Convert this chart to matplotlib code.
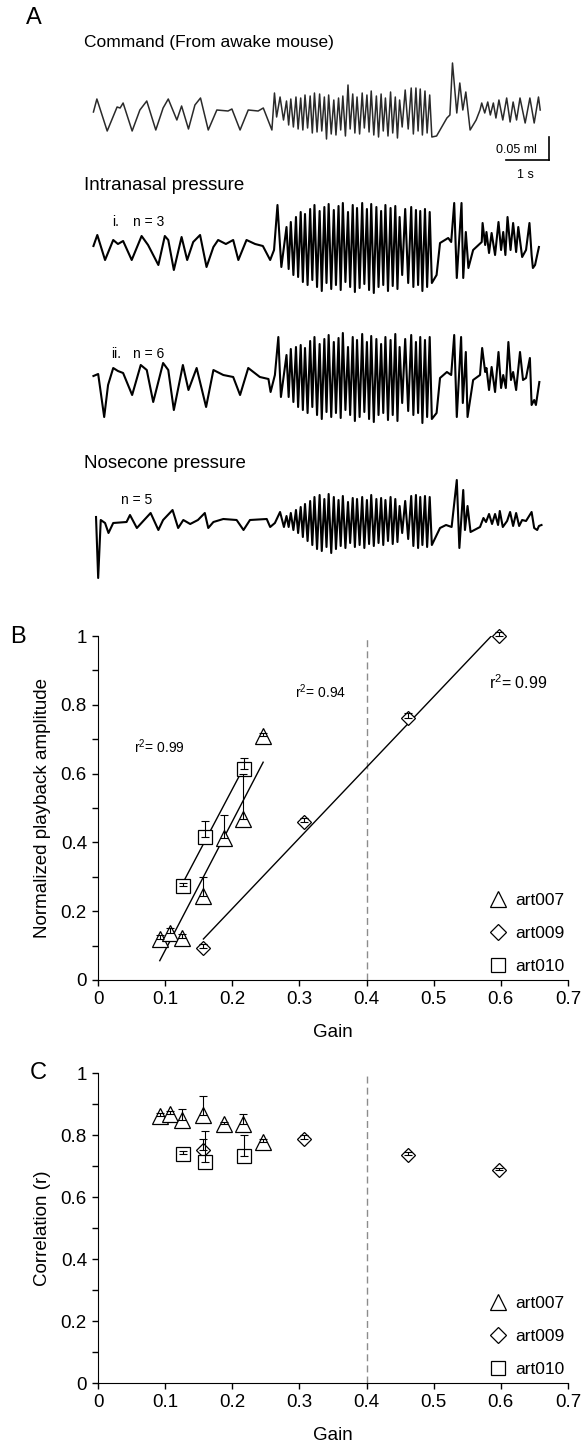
import numpy as np
import matplotlib.pyplot as plt
from matplotlib.lines import Line2D

plt.rcParams['font.family'] = ['Liberation Sans', 'DejaVu Sans']
plt.rcParams['mathtext.default'] = 'regular'

# ---------------- Panel A: pressure traces ----------------
# turning points: (time in s, amplitude in a.u.; 23 a.u. = 0.05 ml)
cmd_pre = [(0.08, 3), (0.16, 16), (0.40, -16), (0.63, 8), (0.70, 7), (0.77, 12), (0.98, -16),
           (1.16, 5), (1.32, 14), (1.53, -15), (1.70, 7), (1.82, 16), (2.02, -5), (2.13, 9),
           (2.29, -14), (2.44, 10), (2.57, 17), (2.75, -15), (2.95, 5), (3.21, 4), (3.30, 6),
           (3.49, -15), (3.68, 5), (3.91, 4), (4.03, 7), (4.23, -15), (4.29, 22), (4.34, -2),
           (4.42, 18), (4.50, -5)]
cmd_post = [(8.06, -21), (8.30, -3), (8.37, 0), (8.43, 52), (8.53, 2), (8.60, 32), (8.67, 5),
            (8.74, 23), (8.84, -15), (8.98, -5), (9.07, 5), (9.11, 12), (9.18, 2), (9.25, 13),
            (9.31, 0), (9.38, 12), (9.44, -3), (9.51, 15), (9.60, -5), (9.69, 17), (9.77, -7),
            (9.84, 13), (9.92, -5), (10.0, 17), (10.12, -8), (10.23, 17), (10.33, -8),
            (10.43, 18), (10.47, 5)]

in1_pre = [(0.08, 1), (0.17, 12), (0.35, -13), (0.54, 7), (0.65, 3), (0.77, 6), (0.97, -13),
           (1.20, 11), (1.35, 2), (1.59, -18), (1.74, 11), (1.82, 7), (1.95, -23), (2.13, 10),
           (2.26, -13), (2.40, 5), (2.56, 12), (2.71, -20), (2.87, 0), (2.98, 7), (3.16, 3),
           (3.33, 7), (3.45, -13), (3.64, 7), (3.84, 3), (4.02, 1), (4.19, -13), (4.28, -3),
           (4.36, 42), (4.45, -20)]
in1_post = [(8.06, -28), (8.14, 4), (8.33, 9), (8.40, 5), (8.47, 44), (8.53, -31), (8.64, 44),
            (8.68, -31), (8.74, 15), (8.80, -21), (8.91, -3), (9.11, 5), (9.13, 24), (9.19, 2),
            (9.22, 15), (9.28, -6), (9.34, 14), (9.42, -8), (9.50, 25), (9.56, -3), (9.61, 15),
            (9.66, -8), (9.71, 30), (9.78, -3), (9.84, 24), (9.91, -5), (9.96, 20), (10.05, -10),
            (10.14, -3), (10.22, 24), (10.27, -8), (10.30, -21), (10.35, -18), (10.40, -8),
            (10.44, 0)]

in2_pre = [(0.08, 1), (0.19, 3), (0.33, -40), (0.42, -8), (0.54, 9), (0.65, 6), (0.77, 4),
           (0.98, -18), (1.18, 12), (1.32, 7), (1.47, -25), (1.70, 14), (1.82, 7), (1.95, -33),
           (2.16, 12), (2.29, -13), (2.48, 9), (2.70, -30), (2.87, 7), (3.10, 2), (3.33, 0),
           (3.49, -18), (3.68, 9), (3.95, 0), (4.15, -2), (4.20, -15), (4.30, 2), (4.38, 40),
           (4.44, -20)]
in2_post = [(8.06, -36), (8.14, -1), (8.30, 5), (8.40, 2), (8.47, 42), (8.53, -40), (8.63, 40),
            (8.67, -26), (8.74, 25), (8.78, -40), (8.91, -3), (9.07, 2), (9.12, 29), (9.19, 5),
            (9.22, 9), (9.28, -13), (9.34, 10), (9.42, -15), (9.50, 25), (9.56, -11), (9.61, 2),
            (9.67, -11), (9.73, 35), (9.79, -3), (9.84, 5), (9.91, -13), (10.0, 25), (10.07, -3),
            (10.14, -1), (10.23, 19), (10.27, -28), (10.33, -23), (10.37, -28), (10.45, -5)]

nose_pre = [(0.14, 4), (0.19, -57), (0.25, 1), (0.35, -2), (0.43, -12), (0.54, -2), (0.85, -1),
            (0.93, 6), (1.09, -7), (1.26, 1), (1.41, 8), (1.59, -9), (1.70, 1), (1.92, 11),
            (2.05, -7), (2.17, 1), (2.33, -3), (2.51, 1), (2.67, 8), (2.75, -7), (2.87, -1),
            (3.10, 2), (3.41, 1), (3.57, -9), (3.72, 1), (4.11, 2), (4.19, -6), (4.30, -2),
            (4.42, 9), (4.51, -6)]
nose_post = [(8.14, -7), (8.28, -4), (8.41, -6), (8.53, 41), (8.59, -27), (8.68, 31), (8.72, -9),
             (8.78, 15), (8.85, -11), (9.07, -6), (9.15, 3), (9.21, -1), (9.28, 7), (9.35, -3),
             (9.42, 7), (9.49, -4), (9.53, 10), (9.60, -6), (9.70, 0), (9.77, 9), (9.84, -5),
             (9.91, 8), (9.98, -5), (10.05, 1), (10.14, 0), (10.27, 9), (10.33, -7), (10.40, -9),
             (10.44, -5), (10.50, -4)]

# fast sniffing bout: times of each peak / trough (s)
fast_peak_t = [4.57, 4.67, 4.79, 4.90, 5.00, 5.12, 5.22, 5.34, 5.45, 5.55, 5.67, 5.78, 5.88,
               6.00, 6.11, 6.21, 6.33, 6.44, 6.54, 6.66, 6.77, 6.87, 6.99, 7.10, 7.20, 7.33,
               7.47, 7.58, 7.68, 7.79, 7.90]
fast_trough_t = [4.62, 4.73, 4.84, 4.95, 5.06, 5.17, 5.28, 5.39, 5.50, 5.61, 5.72, 5.83, 5.94,
                 6.05, 6.16, 6.27, 6.38, 6.49, 6.60, 6.71, 6.82, 6.93, 7.04, 7.15, 7.26, 7.40,
                 7.52, 7.63, 7.73, 7.84, 7.95]

cmd_peaks = [14, 16, 18, 17, 20, 19, 22, 21, 18, 20, 15, 17, 19, 30, 21, 18, 22, 20, 24, 19,
             21, 17, 23, 18, 15, 25, 27, 27, 26, 24, 20]
cmd_troughs = [-10, -12, -14, -15, -13, -18, -17, -16, -24, -19, -20, -15, -21, -14, -18, -19,
               -13, -17, -20, -22, -16, -21, -18, -23, -12, -14, -19, -16, -20, -18, -22]
in1_peaks = [20, 25, 30, 35, 33, 38, 42, 36, 40, 43, 37, 41, 44, 35, 42, 39, 44, 38, 43, 40,
             36, 42, 39, 41, 30, 38, 40, 37, 36, 38, 35]
in1_troughs = [-22, -28, -30, -35, -38, -33, -40, -44, -36, -42, -38, -43, -35, -40, -45, -41,
               -37, -43, -46, -40, -38, -44, -39, -42, -28, -36, -40, -38, -44, -40, -36]
in2_peaks = [22, 28, 30, 32, 29, 36, 40, 33, 38, 42, 35, 39, 44, 30, 40, 37, 43, 35, 41, 38,
             33, 40, 37, 43, 30, 38, 42, 35, 40, 37, 40]
in2_troughs = [-20, -25, -30, -33, -36, -30, -38, -42, -35, -40, -36, -41, -33, -38, -44, -40,
               -35, -42, -45, -38, -36, -43, -38, -44, -26, -34, -38, -36, -46, -40, -42]
nose_peaks = [5, 8, 11, 14, 17, 20, 24, 26, 22, 27, 24, 21, 25, 19, 23, 22, 24, 21, 26, 22,
              23, 21, 24, 22, 15, 20, 25, 26, 24, 25, 24]
nose_troughs = [-6, -9, -12, -16, -20, -24, -28, -30, -26, -32, -28, -25, -27, -22, -26, -24,
                -27, -23, -25, -22, -24, -20, -23, -21, -12, -18, -25, -27, -24, -26, -24]

trace_baseline = [115, 247, 377, 521]   # a.u. below the top of panel A
scalebar_s = 1.0
scalebar_au = 23                        # = 0.05 ml

# ---------------- Panels B and C ----------------
gain_007 = [0.092, 0.107, 0.125, 0.157, 0.187, 0.216, 0.246]
gain_009 = [0.157, 0.307, 0.462, 0.597]
gain_010 = [0.126, 0.159, 0.217]

amp_007 = [0.12, 0.138, 0.123, 0.243, 0.414, 0.468, 0.708]
amp_007_err = [0.01, 0.012, 0.01, 0.055, 0.066, 0.13, 0.01]
amp_009 = [0.093, 0.459, 0.763, 1.0]
amp_009_err = [0.012, 0.012, 0.012, 0.012]
amp_010 = [0.273, 0.415, 0.613]
amp_010_err = [0.01, 0.047, 0.033]

corr_007 = [0.862, 0.867, 0.847, 0.865, 0.837, 0.837, 0.776]
corr_007_err = [0.01, 0.01, 0.038, 0.06, 0.005, 0.03, 0.012]
corr_009 = [0.751, 0.786, 0.736, 0.687]
corr_009_err = [0.037, 0.015, 0.01, 0.008]
corr_010 = [0.739, 0.714, 0.731]
corr_010_err = [0.01, 0.10, 0.07]

r2_labels = ['0.99', '0.94', '0.99']
series_names = ['art007', 'art009', 'art010']

FIG_W, FIG_H = 582, 1453


def build_trace(pre, peaks, troughs, post):
    t = [p[0] for p in pre]
    v = [p[1] for p in pre]
    for tp, vp, tt, vt in zip(fast_peak_t, peaks, fast_trough_t, troughs):
        t += [tp, tt]
        v += [vp, vt]
    t += [p[0] for p in post]
    v += [p[1] for p in post]
    return np.array(t), np.array(v)


fig = plt.figure(figsize=(FIG_W / 100, FIG_H / 100), dpi=100)

# --- Panel A ---
axA = fig.add_axes([0, 1 - 600 / FIG_H, 1, 600 / FIG_H])
axA.set_xlim(-90 / 43, 492 / 43)
axA.set_ylim(-600, 0)
axA.axis('off')

traces = [build_trace(cmd_pre, cmd_peaks, cmd_troughs, cmd_post),
          build_trace(in1_pre, in1_peaks, in1_troughs, in1_post),
          build_trace(in2_pre, in2_peaks, in2_troughs, in2_post),
          build_trace(nose_pre, nose_peaks, nose_troughs, nose_post)]
for k, (t, v) in enumerate(traces):
    if k == 0:
        axA.plot(t, v - trace_baseline[k], color='#2a2a2a', lw=1.1, solid_joinstyle='round')
    else:
        axA.plot(t, v - trace_baseline[k], color='black', lw=1.5, solid_joinstyle='round')

# scale bars
axA.plot([10.67 - scalebar_s, 10.67], [-160, -160], color='black', lw=1.2)
axA.plot([10.67, 10.67], [-160, -160 + scalebar_au], color='black', lw=1.2)
axA.text(10.40, -150, '0.05 ml', fontsize=9, ha='right', va='center')
axA.text(10.12, -175, '1 s', fontsize=9, ha='center', va='center')

axA.text(-0.15, -43, 'Command (From awake mouse)', fontsize=12.5, va='center')
axA.text(-0.15, -185, 'Intranasal pressure', fontsize=13.5, va='center')
axA.text(-0.15, -463, 'Nosecone pressure', fontsize=13.5, va='center')
axA.text(0.51, -222, 'i.', fontsize=10, va='center')
axA.text(1.0, -222, 'n = 3', fontsize=10, va='center')
axA.text(0.49, -354, 'ii.', fontsize=10, va='center')
axA.text(1.0, -354, 'n = 6', fontsize=10, va='center')
axA.text(0.72, -500, 'n = 5', fontsize=10, va='center')
fig.text(26 / FIG_W, 1 - 18 / FIG_H, 'A', fontsize=17, va='center')


# --- Panels B and C ---
def gain_panel(top_px, bottom_px, values, errors, ylabel):
    h = bottom_px - top_px
    ax = fig.add_axes([98 / FIG_W, 1 - bottom_px / FIG_H, 470 / FIG_W, h / FIG_H])
    gains = [gain_007, gain_009, gain_010]
    markers = ['^', 'D', 's']
    sizes = [12, 7.5, 10.5]
    for g, v, e, m, s in zip(gains, values, errors, markers, sizes):
        ax.plot(g, v, ls='none', marker=m, ms=s, mfc='white', mec='black', mew=0.9,
                zorder=3, clip_on=False)
        ax.errorbar(g, v, yerr=[np.zeros(len(e)), e], fmt='none', ecolor='black',
                    elinewidth=0.8, capsize=3, capthick=0.8, zorder=4, clip_on=False)
    ax.axvline(0.4, color='0.55', lw=1, ls=(0, (5, 3)), zorder=1)
    ax.set_xlim(0, 0.7)
    ax.set_ylim(0, 1)
    ax.spines['top'].set_visible(False)
    ax.spines['right'].set_visible(False)
    ax.set_xticks(np.arange(0, 0.71, 0.1))
    ax.set_xticklabels(['0', '0.1', '0.2', '0.3', '0.4', '0.5', '0.6', '0.7'])
    ax.set_yticks(np.arange(0, 1.01, 0.2))
    ax.set_yticklabels(['0', '0.2', '0.4', '0.6', '0.8', '1'])
    ax.set_yticks(np.arange(0.1, 1.0, 0.2), minor=True)
    ax.tick_params(direction='out', length=4, width=1, labelsize=13.5, pad=4)
    ax.tick_params(which='minor', direction='out', length=4, width=1)
    ax.set_xlabel('Gain', fontsize=13.5)
    ax.set_ylabel(ylabel, fontsize=13.5)
    ax.xaxis.set_label_coords(0.5, -44 / h)
    ax.yaxis.set_label_coords(-0.100, 0.5)
    handles = [Line2D([], [], ls='none', marker=m, ms=s, mfc='white', mec='black', mew=0.9,
                      label=n) for m, s, n in zip(markers, [12, 8, 10.5], series_names)]
    ax.legend(handles=handles, loc='lower left', bbox_to_anchor=(0.833, 6 / h), frameon=False,
              fontsize=12.5, handlelength=1.0, handletextpad=0.5, labelspacing=1.04,
              borderpad=0, borderaxespad=0, numpoints=1)
    return ax


axB = gain_panel(636, 980, [amp_007, amp_009, amp_010],
                 [amp_007_err, amp_009_err, amp_010_err], 'Normalized playback amplitude')
# regression lines
for g, v in [(gain_007, amp_007), (gain_009, amp_009), (gain_010, amp_010)]:
    slope, icpt = np.polyfit(g, v, 1)
    xs = np.array([min(g), max(g)])
    axB.plot(xs, slope * xs + icpt, color='black', lw=1, zorder=2)
axB.text(0.053, 0.678, 'r$^2$= ' + r2_labels[0], fontsize=10, va='center')
axB.text(0.294, 0.837, 'r$^2$= ' + r2_labels[1], fontsize=10, va='center')
axB.text(0.583, 0.863, 'r$^2$= ' + r2_labels[2], fontsize=11.5, va='center')
fig.text(10 / FIG_W, 1 - 637 / FIG_H, 'B', fontsize=17, va='center')

axC = gain_panel(1073, 1383, [corr_007, corr_009, corr_010],
                 [corr_007_err, corr_009_err, corr_010_err], 'Correlation (r)')
fig.text(30 / FIG_W, 1 - 1073 / FIG_H, 'C', fontsize=17, va='center')

fig.savefig('out.png', dpi=100)
